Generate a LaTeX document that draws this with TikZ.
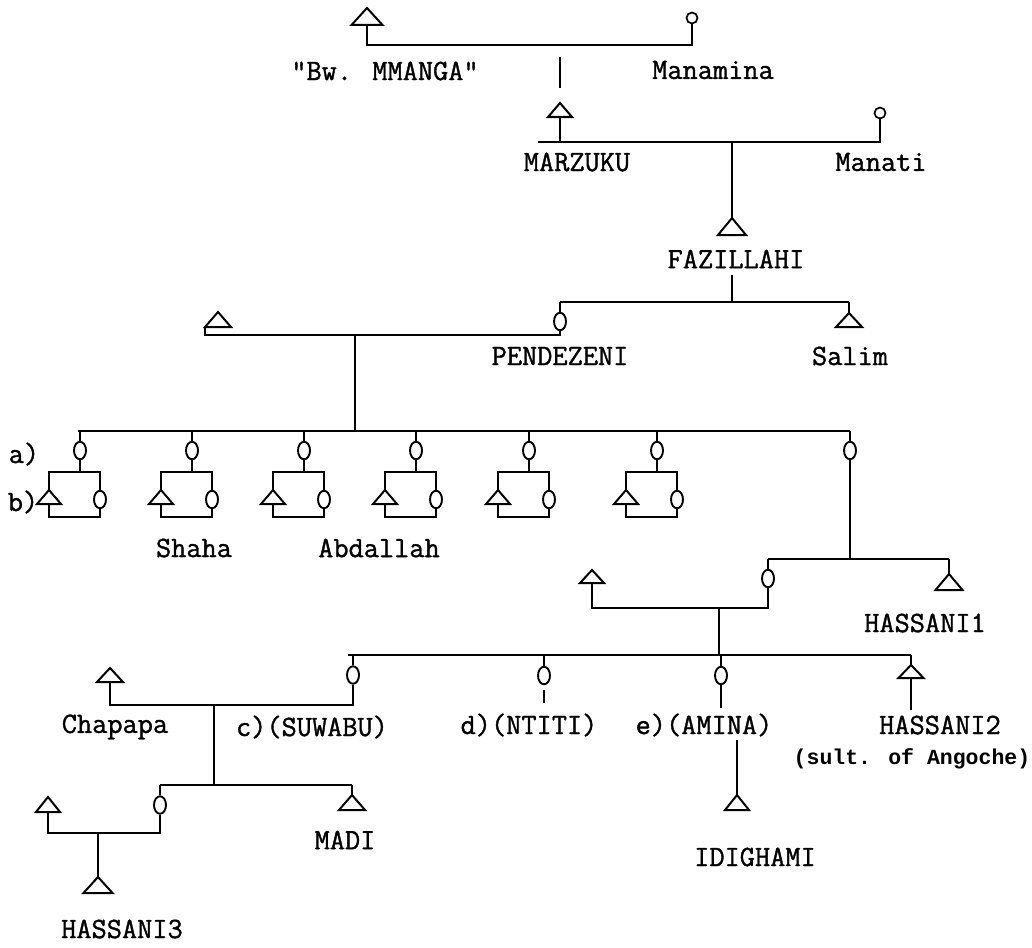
\documentclass[tikz,border=0pt]{standalone}
\usepackage{fontspec}
\newfontfamily\notefont{Liberation Mono}
\newfontfamily\typefont{Latin Modern Mono}[FakeBold=1.2]
\usetikzlibrary{shapes.geometric}
\tikzset{
  ln/.style={line width=2pt},
  fem/.style={draw, ellipse, line width=1.9pt, minimum width=12pt, minimum height=17.5pt, inner sep=0pt},
  femsm/.style={draw, circle, line width=1.7pt, minimum size=11pt, inner sep=0pt},
  mbox/.style={inner sep=0pt, outer sep=0pt},
  lbl/.style={font=\fontsize{29.5}{30}\selectfont\typefont, inner sep=0pt},
  note/.style={font=\fontsize{21.5}{22}\selectfont\notefont\bfseries, inner sep=0pt}
}
\newcommand{\mtri}[4]{%
  \node[mbox,minimum width=#3pt,minimum height=#4pt] (#1) at (#2) {};
  \draw[ln,line join=miter] (#1.south west) -- (#1.north) -- (#1.south east) -- cycle;}
\begin{document}
\begin{tikzpicture}[x=1pt,y=-1pt]
\useasboundingbox (0,0) rectangle (1032,947);

% ---------- generation 0
\mtri{bw}{367,16.5}{31}{17}
\node[femsm] (mnm) at (692,18) {};
\coordinate (c0l) at (367,45);
\coordinate (c0r) at (692,45);
\draw[ln] (bw.south) -- (c0l) -- (c0r) -- (mnm.south);
\node[lbl] (bwt) at (385,71) {"Bw. MMANGA"};
\node[lbl] (mnmt) at (713,70) {Manamina};
\coordinate (d0a) at (560,57);
\coordinate (d0b) at (560,88);
\draw[ln] (d0a) -- (d0b);

% ---------- generation 1
\mtri{mz}{560,110}{24}{14}
\node[femsm] (mnt) at (880,113) {};
\coordinate (c1l) at (538,142);
\coordinate (c1r) at (880,142);
\coordinate (c1d) at (732,142);
\draw[ln] (c1l) -- (c1r) -- (mnt.south);
\draw[ln] (mz.south) -- (mz.south |- c1l);
\node[lbl] (mzt) at (577,162) {MARZUKU};
\node[lbl] (mntt) at (881,162) {Manati};

% ---------- generation 2
\mtri{faz}{732,226.5}{28}{17}
\draw[ln] (c1d) -- (faz.north);
\node[lbl] (fazt) at (736,259) {FAZILLAHI};
\coordinate (fzd) at (732,275);
\coordinate (s2l) at (560,302);
\coordinate (s2r) at (849,302);
\draw[ln] (fzd) -- (fzd |- s2l);
\draw[ln] (s2l) -- (s2r);
\node[fem] (pend) at (560,321.5) {};
\mtri{sal}{849,320}{26}{14}
\draw[ln] (s2l) -- (pend.north);
\draw[ln] (s2r) -- (sal.north);
\node[lbl] (pendt) at (560,356) {PENDEZENI};
\node[lbl] (salt) at (850,356) {Salim};
\mtri{hus}{218,319.5}{26}{15}
\coordinate (c2l) at (205,335);
\coordinate (c2r) at (560,335);
\coordinate (c2d) at (355,335);
\draw[ln] (hus.south west) -- (c2l) -- (c2r) -- (pend.south);

% ---------- generation 3
\coordinate (s3l) at (78,431);
\coordinate (s3r) at (850,431);
\draw[ln] (c2d) -- (c2d |- s3l);
\draw[ln] (s3l) -- (s3r);
\foreach \i/\d in {1/80,2/192,3/304,4/416,5/529,6/657}{
  \node[fem] (a\i) at (\d,450.5) {};
  \draw[ln] (a\i.north) -- (a\i.north |- s3l);
  \coordinate (tl\i) at ({\d-31},472);
  \coordinate (tr\i) at ({\d+20},472);
  \coordinate (bl\i) at ({\d-31},517);
  \coordinate (br\i) at ({\d+20},517);
  \node[fem] (bo\i) at ({\d+20},499.5) {};
  \mtri{bt\i}{{\d-31},497}{24}{14}
  \draw[ln] (a\i.south) -- (a\i.south |- tl\i);
  \draw[ln] (bt\i.north) -- (tl\i) -- (tr\i) -- (bo\i.north);
  \draw[ln] (bt\i.south) -- (bl\i) -- (br\i) -- (bo\i.south);
}
\node[lbl] (la) at (24,454) {a)};
\node[lbl] (lb) at (23,502) {b)};
\node[lbl] (shaha) at (194,548) {Shaha};
\node[lbl] (abd) at (379,548) {Abdallah};

% seventh daughter
\node[fem] (a7) at (850,450.5) {};
\draw[ln] (a7.north) -- (s3r);
\coordinate (s4l) at (768,559);
\coordinate (s4r) at (949,559);
\draw[ln] (a7.south) -- (a7.south |- s4l);
\draw[ln] (s4l) -- (s4r);
\node[fem] (f4) at (768,578.5) {};
\mtri{h1}{949,582}{27}{16}
\draw[ln] (s4l) -- (f4.north);
\draw[ln] (s4r) -- (h1.north);
\node[lbl] (h1t) at (925,623) {HASSANI1};
\mtri{hb4}{592,576.5}{24}{13}
\coordinate (c4l) at (592,608);
\coordinate (c4r) at (768,608);
\coordinate (c4d) at (719,608);
\draw[ln] (hb4.south) -- (c4l) -- (c4r) -- (f4.south);

% ---------- generation 5
\coordinate (s5l) at (348,655);
\coordinate (s5r) at (911,655);
\draw[ln] (c4d) -- (c4d |- s5l);
\draw[ln] (s5l) -- (s5r);
\node[fem] (su) at (353,675) {};
\node[fem] (nt) at (544,675.5) {};
\node[fem] (am) at (721,675.5) {};
\mtri{h2}{911,671.5}{25}{13}
\draw[ln] (su.north) -- (su.north |- s5l);
\draw[ln] (nt.north) -- (nt.north |- s5l);
\draw[ln] (am.north) -- (am.north |- s5l);
\draw[ln] (h2.north) -- (s5r);
\coordinate (ntk1) at (544,690);
\coordinate (ntk2) at (544,703);
\draw[ln] (ntk1) -- (ntk2);
\coordinate (amk) at (721,708);
\draw[ln] (am.south) -- (amk);
\coordinate (h2k) at (911,710);
\draw[ln] (h2.south) -- (h2k);
\node[lbl] (sut) at (312,727) {c)(SUWABU)};
\node[lbl] (ntt) at (529,725) {d)(NTITI)};
\node[lbl] (amt) at (704,725) {e)(AMINA)};
\node[lbl] (h2t) at (940,725) {HASSANI2};
\node[note] (h2n) at (912,759) {(sult. of Angoche)};

% IDIGHAMI
\coordinate (idk) at (737,740);
\mtri{idi}{737,802.5}{24}{15}
\draw[ln] (idk) -- (idi.north);
\node[lbl] (idit) at (755,857) {IDIGHAMI};

% SUWABU family
\mtri{ch}{110,675}{26}{14}
\coordinate (c5l) at (110,705);
\coordinate (c5r) at (353,705);
\coordinate (c5d) at (214,705);
\draw[ln] (ch.south) -- (c5l) -- (c5r) -- (su.south);
\node[lbl] (cht) at (115,727) {Chapapa};
\coordinate (s6l) at (160,785);
\coordinate (s6r) at (352,785);
\draw[ln] (c5d) -- (c5d |- s6l);
\draw[ln] (s6l) -- (s6r);
\node[fem] (g6) at (160,805) {};
\mtri{madi}{352,802.5}{26}{15}
\draw[ln] (s6l) -- (g6.north);
\draw[ln] (s6r) -- (madi.north);
\node[lbl] (madit) at (345,840) {MADI};
\mtri{lh}{48,804.5}{24}{15}
\coordinate (c6l) at (48,833);
\coordinate (c6r) at (160,833);
\coordinate (c6d) at (98,833);
\draw[ln] (lh.south) -- (c6l) -- (c6r) -- (g6.south);
\mtri{h3}{98,885}{29}{16}
\draw[ln] (c6d) -- (h3.north);
\node[lbl] (h3t) at (122,929) {HASSANI3};
\end{tikzpicture}
\end{document}
